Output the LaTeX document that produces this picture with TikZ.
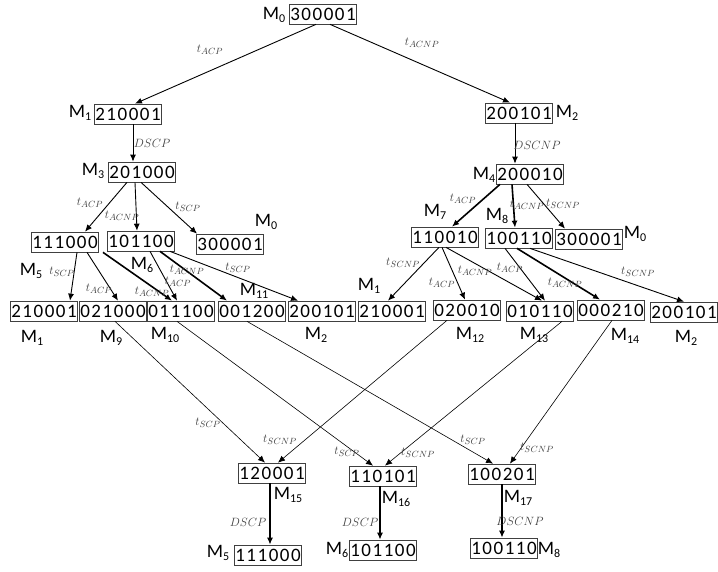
\documentclass[tikz,border=0pt]{standalone}
\usepackage{fontspec}
\usetikzlibrary{arrows.meta}
\newfontfamily\digfont[LetterSpace=8]{Carlito}
\newfontfamily\mfont{Carlito}
\newcommand\mk[1]{M\raisebox{-3pt}{\fontsize{12}{12}\selectfont #1}}
\tikzset{
  mbox/.style={draw=black!75, line width=0.7pt, minimum width=66pt, minimum height=20pt, inner xsep=0.5pt, inner ysep=1pt, font=\digfont\fontsize{19}{19}\selectfont},
  mlab/.style={inner sep=0pt, font=\mfont\fontsize{19}{19}\selectfont},
  tlab/.style={inner sep=0pt, text=black!75, font=\fontsize{13}{15}\selectfont},
  arr/.style={->, line width=0.9pt},
  arrb/.style={->, line width=1.6pt},
  arrt/.style={->, line width=0.6pt},
}
\begin{document}
\begin{tikzpicture}[x=1pt, y=-1pt, >={Latex[length=7pt,width=6pt]}]
  \useasboundingbox (0,0) rectangle (718,571);
  % markings
  \foreach \n/\x/\y/\v in {m0/323/14/300001, m1/128/114/210001, m2/519/113/200101,
      m3/142/172/201000, m4/530/174/200010,
      m5/65/242/111000, m6/141/241/101100, m0a/230/244/300001,
      m7/445/237/110010, m8/519/238/100110, m0b/589/239/300001,
      m1a/44/311/210001, m9/113/311/021000, m10/181/311/011100, m11/252/311/001200, m2a/322/311/200101,
      m1b/392/311/210001, m12/467/310/020010, m13/540/311/010110, m14/611/310/000210, m2b/684/312/200101,
      m15/272/473/120001, m16/383/476/110101, m17/502/474/100201,
      m5a/268/555/111000, m6a/383/550/101100, m8a/504/548/100110}
    \node[mbox] (\n) at (\x,\y) {\v};
  % names
  \foreach \n/\x/\y/\k in {l0/274/15/0, l1/80/113/1, l2/567/113/2, l3/93/171/3, l4/484/175/4,
      l5/31/271/5, l6/142/265/6, l0a/266/222/0, l7/435/212/7, l8/497/216/8, l0b/635/234/0,
      l1a/32/338/1, l9/111/338/9, l10/165/335/10, l11/254/291/11, l2a/316/335/2,
      l1b/369/286/1, l12/470/335/12, l13/534/335/13, l14/625/336/14, l2b/686/338/2,
      l15/288/495/15, l16/396/499/16, l17/518/498/17,
      l5a/218/553/5, l6a/337/550/6, l8a/549/550/8}
    \node[mlab] (\n) at (\x,\y) {\mk{\k}};
  % firings
  \foreach \a/\sa/\b/\sb/\lx/\ly/\lab in {m0/-7/m1/7/210/50/t_{ACP}, m0/7/m2/-9/422/43/t_{ACNP},
      m1/5/m3/-9/152/143/DSCP, m2/-4/m4/-15/537/145/DSCNP,
      m3/-15/m5/20/90/203/t_{ACP}, m3/-7/m6/-4/122/216/t_{ACNP}, m3/-1/m0a/-33/188/207/t_{SCP},
      m4/-3/m0b/-24/563/204/t_{SCNP},
      m5/12/m1a/26/62/272/t_{SCP}, m5/22/m9/5/99/289/t_{ACP}, m6/9/m10/-4/178/282/t_{ACP},
      m6/29/m2a/-24/238/268/t_{SCP},
      m7/-6/m1b/-4/403/263/t_{SCNP}, m7/-3/m12/-2/442/283/t_{ACP}, m7/1/m13/2/475/271/t_{ACNP},
      m8/-14/m13/5/510/268/t_{ACP}, m8/11/m2b/0/638/272/t_{SCNP}}
    \draw[arr] ([xshift=\sa pt]\a.south) -- ([xshift=\sb pt]\b.north) node[tlab] at (\lx,\ly) {$\lab$};
  \foreach \a/\sa/\b/\sb/\lx/\ly/\lab in {m4/-30/m7/7/463/199/t_{ACP}, m4/-18/m8/-4/527/205/t_{ACNP},
      m5/38/m10/-9/152/292/t_{ACNP}, m6/19/m11/-25/187/270/t_{ACNP}, m8/-2/m14/-11/565/283/t_{ACNP},
      m15/-2/m5a/2/248/522/DSCP, m16/-3/m6a/-3/360/522/DSCP, m17/0/m8a/-2/520/521/DSCNP}
    \draw[arrb] ([xshift=\sa pt]\a.south) -- ([xshift=\sb pt]\b.north) node[tlab] at (\lx,\ly) {$\lab$};
  \foreach \a/\sa/\b/\sb/\lx/\ly/\lab in {m9/2/m15/-7/208/423/t_{SCP}, m10/-4/m16/-10/347/452/t_{SCP},
      m11/-5/m17/-9/473/440/t_{SCP}, m12/-20/m15/6/280/440/t_{SCNP},
      m13/22/m16/2/418/453/t_{SCNP}, m14/1/m17/8/537/448/t_{SCNP}}
    \draw[arrt] ([xshift=\sa pt]\a.south) -- ([xshift=\sb pt]\b.north) node[tlab] at (\lx,\ly) {$\lab$};
\end{tikzpicture}
\end{document}
